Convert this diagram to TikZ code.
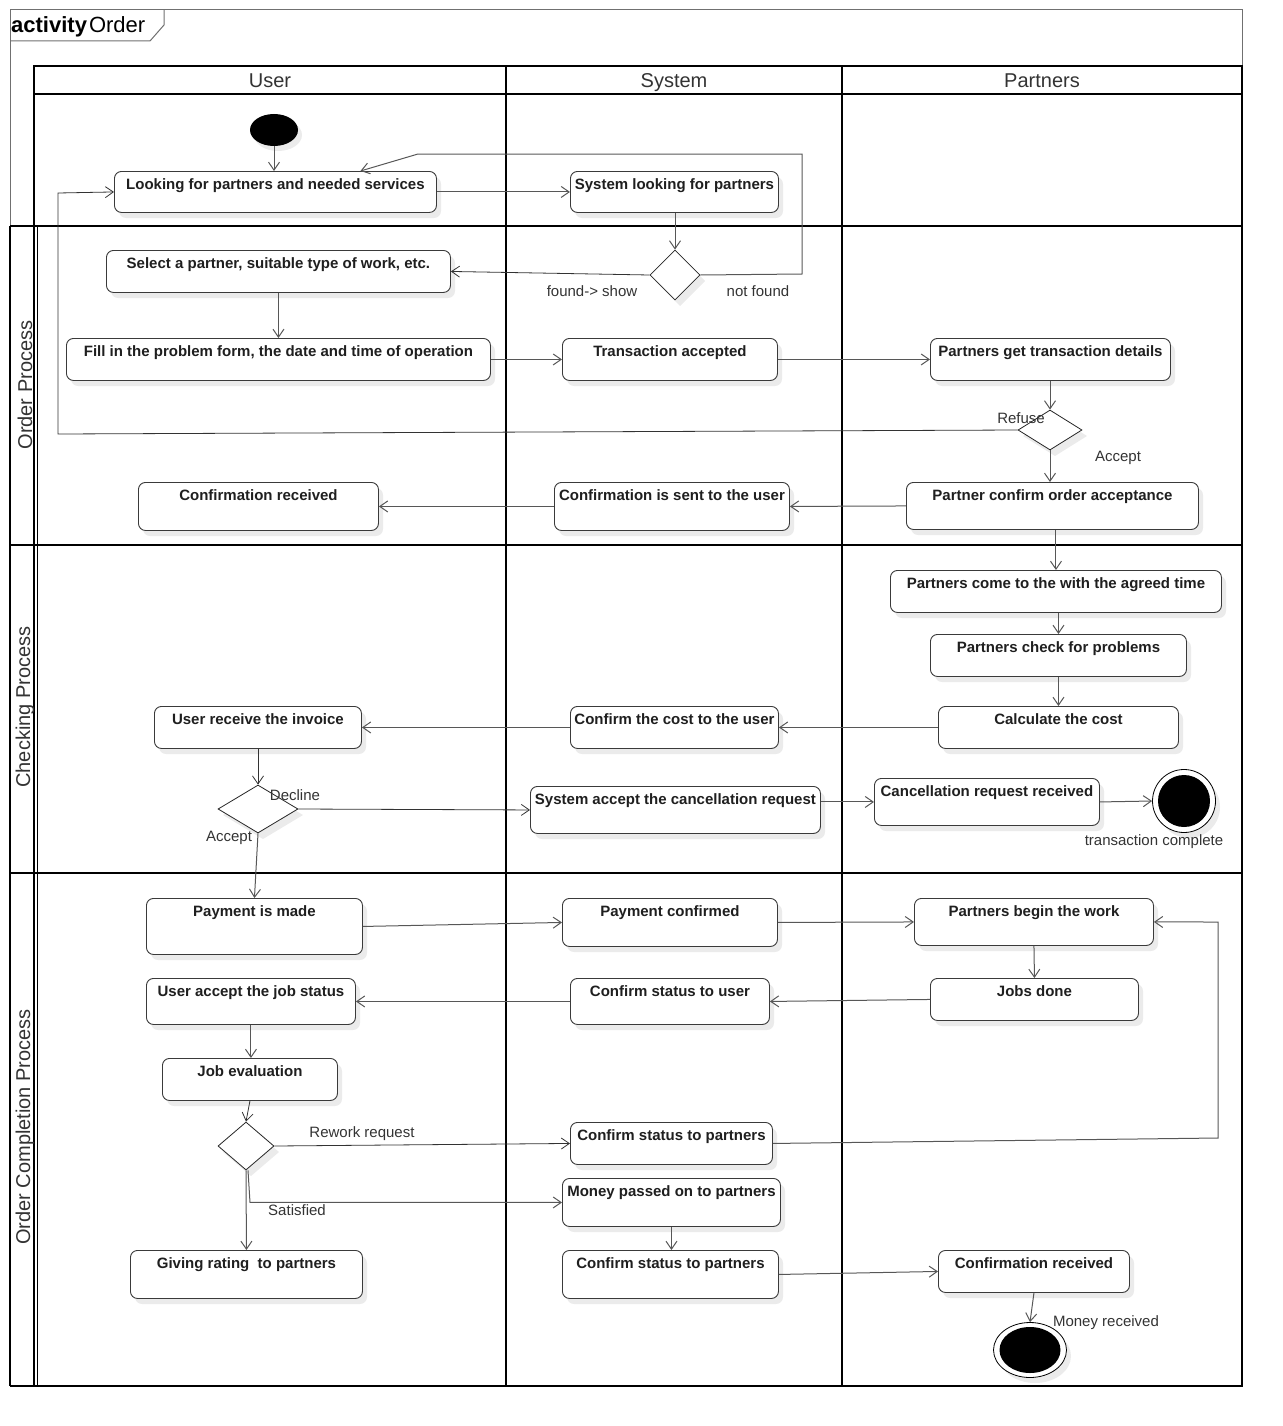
\documentclass[tikz,border=0pt]{standalone}
\usepackage{fontspec}
\setmainfont{Liberation Sans}
\usetikzlibrary{shapes.geometric,arrows.meta,calc}
\definecolor{linec}{HTML}{575757}
\definecolor{boxc}{HTML}{3A3A3A}
\definecolor{shadc}{HTML}{EBEBEB}
\definecolor{txtc}{HTML}{333333}
\definecolor{framec}{HTML}{707070}
\tikzset{
  act/.style={draw=boxc, line width=0.9pt, rounded corners=7pt, fill=white,
    font=\bfseries\fontsize{15}{18}\selectfont, text=black!88,
    inner xsep=2pt, inner ysep=4pt, text height=14.5pt, anchor=north west},
  dec/.style={diamond, draw=black!85, line width=0.8pt, fill=white, inner sep=0pt},
  conn/.style={draw=linec, line width=1pt, -{Straight Barb[length=8pt,width=11pt]}},
  dconn/.style={draw=black!80, line width=0.8pt, -{Straight Barb[length=8pt,width=11pt]}},
  lbl/.style={font=\fontsize{15}{18}\selectfont, text=txtc, inner sep=0pt},
  lane/.style={draw=black, line width=2pt},
  hdr/.style={font=\fontsize{20}{24}\selectfont, text=txtc, inner sep=0pt},
}
\newcommand\actbox[6]{%
  \pgfmathsetmacro\aw{#4-#2}%
  \pgfmathsetmacro\ad{#5-#3-22.5}%
  \fill[shadc, rounded corners=7pt] (#2+5,#3+6) rectangle (#4+5,#5+6);%
  \node[act, minimum width=\aw pt, text depth=\ad pt] (#1) at (#2,#3) {#6};}
\newcommand\decbox[5]{%
  \fill[shadc] (#2-#4+5,#3+6) -- (#2+5,#3-#5+6) -- (#2+#4+5,#3+6) -- (#2+5,#3+#5+6) -- cycle;%
  \node[dec, minimum width=2*#4 pt, minimum height=2*#5 pt] (#1) at (#2,#3) {};}
\begin{document}
\begin{tikzpicture}[x=1pt,y=-1pt]
\useasboundingbox (0,0) rectangle (1282,1426);
% frame
\draw[framec, line width=1pt] (10,226) -- (10,10) -- (1242,10) -- (1242,66);
\draw[framec, line width=1pt] (10,41) -- (150,41) -- (164,25) -- (164,10);
\node[anchor=base west, inner sep=0pt, font=\fontsize{22}{26}\selectfont, text=black] (title) at (11,33) {\textbf{activity}\kern2pt Order};
% lanes
\draw[lane] (34,66) rectangle (1242,1386);
\draw[lane] (34,94) -- (1242,94);
\draw[lane] (506,66) -- (506,1386);
\draw[lane] (842,66) -- (842,1386);
\draw[lane] (10,226) -- (1242,226);
\draw[lane] (10,545) -- (1242,545);
\draw[lane] (10,873) -- (1242,873);
\draw[lane] (10,1386) -- (34,1386);
\draw[lane] (10,226) -- (10,1386);
\draw[draw=black, line width=1.2pt] (37.5,226) -- (37.5,1386);
\node[hdr, anchor=base] (hU) at (270,88) {User};
\node[hdr, anchor=base] (hS) at (674,88) {System};
\node[hdr, anchor=base] (hP) at (1042,88) {Partners};
\node[hdr, rotate=90] (r1) at (25,385) {Order Process};
\node[hdr, rotate=90] (r2) at (25,707) {Checking Process};
\node[hdr, rotate=90] (r3) at (25,1127) {Order Completion Process};
% start
\fill[shadc] (278,135) ellipse [x radius=24pt, y radius=16pt];
\node[ellipse, fill=black, minimum width=48pt, minimum height=32pt, inner sep=0pt] (start) at (274,130) {};
% activities
\actbox{L1}{114}{171}{436}{212}{Looking for partners and needed services}
\actbox{S1}{570}{171}{778}{212}{System looking for partners}
\decbox{D1}{675}{275}{25}{25}
\actbox{L2}{106}{250}{450}{292}{Select a partner, suitable type of work, etc.}
\actbox{L3}{66}{338}{490}{380}{Fill in the problem form, the date and time of operation}
\actbox{S2}{562}{338}{777}{380}{Transaction accepted}
\actbox{P1}{930}{338}{1170}{380}{Partners get transaction details}
\decbox{D2}{1050}{430}{32}{20}
\actbox{P2}{906}{482}{1198}{529}{Partner confirm order acceptance}
\actbox{S3}{554}{482}{789}{530}{Confirmation is sent to the user}
\actbox{L4}{138}{482}{378}{530}{Confirmation received}
\actbox{P3}{890}{570}{1221}{612}{Partners come to the with the agreed time}
\actbox{P4}{930}{634}{1186}{676}{Partners check for problems}
\actbox{P5}{938}{706}{1178}{748}{Calculate the cost}
\actbox{S4}{570}{706}{778}{748}{Confirm the cost to the user}
\actbox{L5}{154}{706}{361}{748}{User receive the invoice}
\decbox{D3}{258}{809}{40}{24}
\actbox{S5}{530}{786}{820}{833}{System accept the cancellation request}
\actbox{P6}{874}{778}{1099}{825}{Cancellation request received}
\fill[shadc] (1189,807) circle (31pt);
\node[circle, draw=black, line width=0.8pt, fill=white, minimum size=63pt, inner sep=0pt] (F1) at (1184,801) {};
\fill[black] (F1.center) circle (26pt);
\actbox{L6}{146}{898}{362}{954}{Payment is made}
\actbox{S6}{562}{898}{777}{946}{Payment confirmed}
\actbox{P7}{914}{898}{1153}{945}{Partners begin the work}
\actbox{P8}{930}{978}{1138}{1020}{Jobs done}
\actbox{S7}{570}{978}{769}{1024}{Confirm status to user}
\actbox{L7}{146}{978}{355}{1024}{User accept the job status}
\actbox{L8}{162}{1058}{337}{1100}{Job evaluation}
\decbox{D4}{246}{1146}{28}{24}
\actbox{S8}{570}{1122}{772}{1164}{Confirm status to partners}
\actbox{S9}{562}{1178}{780}{1226}{Money passed on to partners}
\actbox{L9}{130}{1250}{362}{1298}{Giving rating\ \ to partners}
\actbox{S10}{562}{1250}{778}{1298}{Confirm status to partners}
\actbox{P9}{938}{1250}{1129}{1292}{Confirmation received}
\fill[shadc] (1035,1356) ellipse [x radius=36pt, y radius=27pt];
\node[ellipse, draw=black, line width=0.8pt, fill=white, minimum width=73pt, minimum height=55pt, inner sep=0pt] (F2) at (1030,1350) {};
\fill[black] (F2.center) ellipse [x radius=30.5pt, y radius=23pt];
% connectors
\draw[conn] (start.south) -- (L1.north -| start.south);
\draw[conn] (L1.east) -- (S1.west);
\draw[conn] (S1.south -| D1.north) -- (D1.north);
\draw[dconn] (D1.west) -- (L2.east);
\draw[conn] (D1.east) -- (802,274) -- (802,154) -- (418,154) -- ($(L1.north)+(85,0)$);
\draw[conn] (L2.south) -- (L2.south |- L3.north);
\draw[conn] (L3.east) -- (S2.west);
\draw[conn] (S2.east) -- (P1.west);
\draw[conn] (P1.south -| D2.north) -- (D2.north);
\draw[dconn] (D2.west) -- (58,434) -- (58,193) -- (L1.west);
\draw[conn] (D2.south) -- (D2.south |- P2.north);
\draw[conn] (P2.west) -- (S3.east);
\draw[conn] (S3.west) -- (L4.east);
\draw[conn] (P3.north |- P2.south) -- (P3.north);
\draw[conn] (P4.north |- P3.south) -- (P4.north);
\draw[conn] (P4.south) -- (P5.north);
\draw[conn] (P5.west) -- (S4.east);
\draw[conn] (S4.west) -- (L5.east);
\draw[dconn] (L5.south -| D3.north) -- (D3.north);
\draw[dconn] (D3.east) -- (S5.west);
\draw[conn] (D3.south) -- (L6.north);
\draw[conn] (P6.west -| S5.east) -- (P6.west);
\draw[conn] (P6.east) -- (F1.west);
\draw[conn] (L6.east) -- (S6.west);
\draw[conn] (S6.east) -- (P7.west);
\draw[conn] (P7.south) -- (P8.north);
\draw[conn] (P8.west) -- (S7.east);
\draw[conn] (S7.west) -- (L7.east);
\draw[conn] (L7.south) -- (L7.south |- L8.north);
\draw[dconn] (L8.south) -- (D4.north);
\draw[dconn] (D4.east) -- (S8.west);
\draw[conn] (S8.east) -- (1218,1138) -- (1218,922) -- (P7.east);
\draw[conn] ($(D4.south)+(2,0)$) -- ($(D4.south |- S9.west)+(4,0)$) -- (S9.west);
\draw[conn] (D4.south) -- (L9.north);
\draw[conn] (S9.south) -- (S9.south |- S10.north);
\draw[conn] (S10.east) -- (P9.west);
\draw[conn] (P9.south) -- (F2.north);
% labels
\node[lbl] (t1) at (592,291) {found-> show};
\node[lbl] (t2) at (758,291) {not found};
\node[lbl] (t3) at (1021,418) {Refuse};
\node[lbl] (t4) at (1118,458) {Accept};
\node[lbl] (t5) at (295,795) {Decline};
\node[lbl] (t6) at (229,838) {Accept};
\node[lbl] (t7) at (1154,842) {transaction complete};
\node[lbl] (t8) at (362,1134) {Rework request};
\node[lbl] (t9) at (297,1210) {Satisfied};
\node[lbl] (t10) at (1106,1323) {Money received};
\end{tikzpicture}
\end{document}
